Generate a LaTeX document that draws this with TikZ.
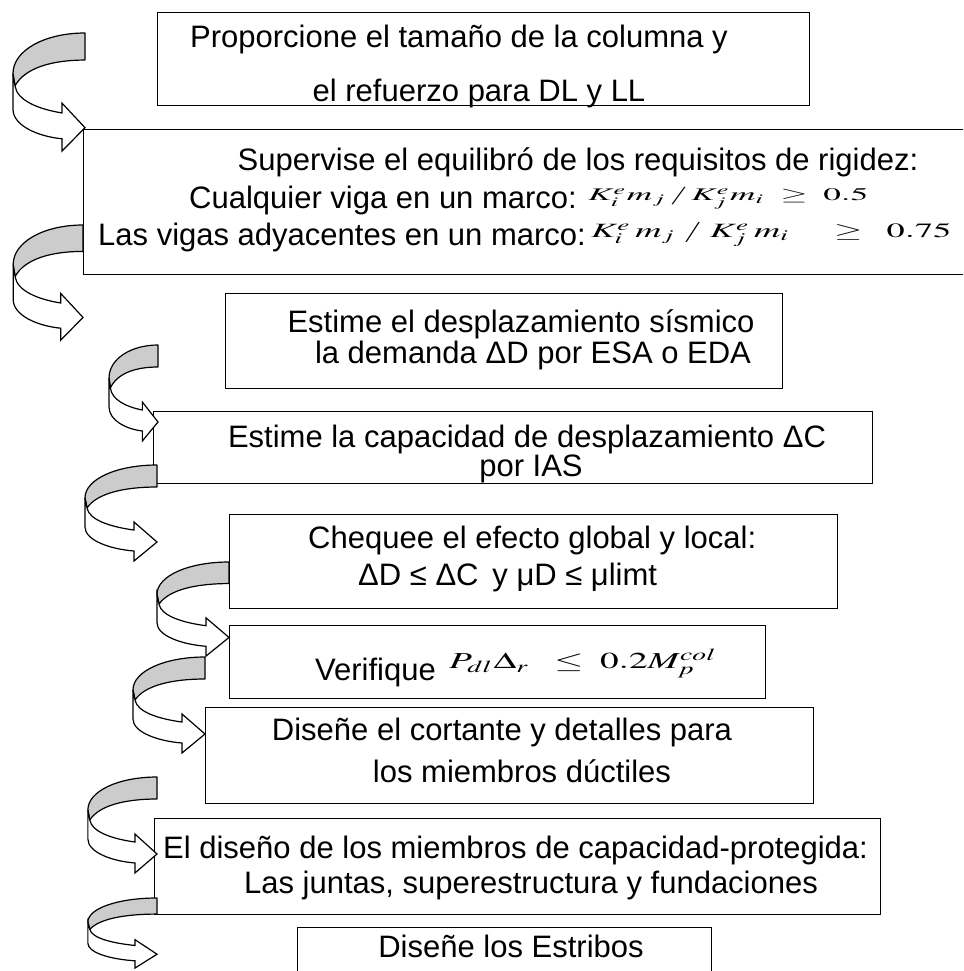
\documentclass[tikz,border=0pt]{standalone}
\usepackage{mathptmx}
\usepackage{fontspec}
\setmainfont{Liberation Sans}
\usepackage{graphicx}
\definecolor{bandgray}{gray}{0.8}
\newcommand\carrow[4]{%
\begin{scope}[shift={(#1,#2)},xscale=#3,yscale=#4]
\path[band] (0,0) .. controls (-40,0) and (-72,14) .. (-72,33) -- (-70,43) .. controls (-60,28) and (-32,22) .. (0,22) -- cycle;
\path[ribbon] (-72,33) -- (-72,62) .. controls (-72,75) and (-48,84) .. (-23,86) -- (-23,96) -- (0,77) -- (-23,57) -- (-23,65) .. controls (-46,62) and (-68,55) .. (-70,43) -- cycle;
\end{scope}}
\begin{document}
\begin{tikzpicture}[x=1pt,y=-1pt,
  boxst/.style={draw,line width=1.2pt,inner sep=0pt,anchor=north west},
  txt/.style={inner sep=0pt,font=\fontsize{31}{36}\selectfont,anchor=base},
  fml/.style={inner sep=0pt,anchor=south west},
  band/.style={draw,line width=1.2pt,fill=bandgray,line join=round},
  ribbon/.style={draw,line width=1.2pt,fill=white,line join=miter}]
\useasboundingbox (0,0) rectangle (963,971);
\clip (0,0) rectangle (963,971);
% boxes
\node[boxst,minimum width=652pt,minimum height=93pt] (b1) at (157,12) {};
\node[boxst,minimum width=900pt,minimum height=145pt] (b2) at (83,129) {};
\node[boxst,minimum width=557pt,minimum height=95pt] (b3) at (225,293) {};
\node[boxst,minimum width=719pt,minimum height=72pt] (b4) at (153,411) {};
\node[boxst,minimum width=608pt,minimum height=94pt] (b5) at (229,514) {};
\node[boxst,minimum width=536pt,minimum height=73pt] (b6) at (229,625) {};
\node[boxst,minimum width=608pt,minimum height=96pt] (b7) at (205,707) {};
\node[boxst,minimum width=726pt,minimum height=96pt] (b8) at (154,818) {};
\node[boxst,minimum width=414pt,minimum height=80pt] (b9) at (297,927) {};
% texts
\node[txt] (t1a) at (459,48) {Proporcione el tamaño de la columna y};
\node[txt] (t1b) at (479,102) {el refuerzo para DL y LL};
\node[txt] (t2a) at (578,170) {Supervise el equilibró de los requisitos de rigidez:};
\node[txt,anchor=base west] (t2b) at (189,208) {Cualquier viga en un marco:};
\node[fml] (f2b) at (588,209) {\resizebox*{280pt}{21pt}{\boldmath$K^{e}_{i}m_{j}\,/\,K^{e}_{j}m_{i}\;\ge\;0.5$}};
\node[txt,anchor=base west] (t2c) at (98,245) {Las vigas adyacentes en un marco:};
\node[fml] (f2c) at (591,247) {\resizebox*{360pt}{24pt}{\boldmath$K^{e}_{i}\,m_{j}\;/\;K^{e}_{j}\,m_{i}\quad\ge\;\;0.75$}};
\node[txt] (t3a) at (521,332) {Estime el desplazamiento sísmico};
\node[txt] (t3b) at (533,363) {la demanda ΔD por ESA o EDA};
\node[txt] (t4a) at (527,447) {Estime la capacidad de desplazamiento ΔC};
\node[txt] (t4b) at (531,476) {por IAS};
\node[txt,anchor=base west] (t5a) at (308,548) {Chequee el efecto global y local:};
\node[txt,anchor=base west] (t5b) at (358,585) {ΔD ≤ ΔC\, y μD ≤ μlimt};
\node[txt,anchor=base west] (t6a) at (315,680) {Verifique};
\node[fml] (f6a) at (449,678) {\resizebox*{268pt}{29pt}{$P_{dl}\Delta_{r}\;\;\le\;0.2M_{p}^{col}$}};
\node[txt] (t7a) at (502,740) {Diseñe el cortante y detalles para};
\node[txt] (t7b) at (522,782) {los miembros dúctiles};
\node[txt,anchor=base west] (t8a) at (163,858) {El diseño de los miembros de capacidad-protegida:};
\node[txt] (t8b) at (531,893) {Las juntas, superestructura y fundaciones};
\node[txt] (t9a) at (511,957) {Diseñe los Estribos};
% curved arrows
\carrow{85}{33}{1.0}{1.23}
\carrow{83}{225}{0.97}{1.2}
\carrow{158}{345}{0.68}{1.0}
\carrow{157}{465}{1.0}{1.0}
\carrow{229}{562}{1.0}{0.98}
\carrow{205}{657}{1.0}{1.0}
\carrow{157}{777}{0.96}{1.0}
\carrow{157}{898}{0.96}{0.73}
\end{tikzpicture}
\end{document}
